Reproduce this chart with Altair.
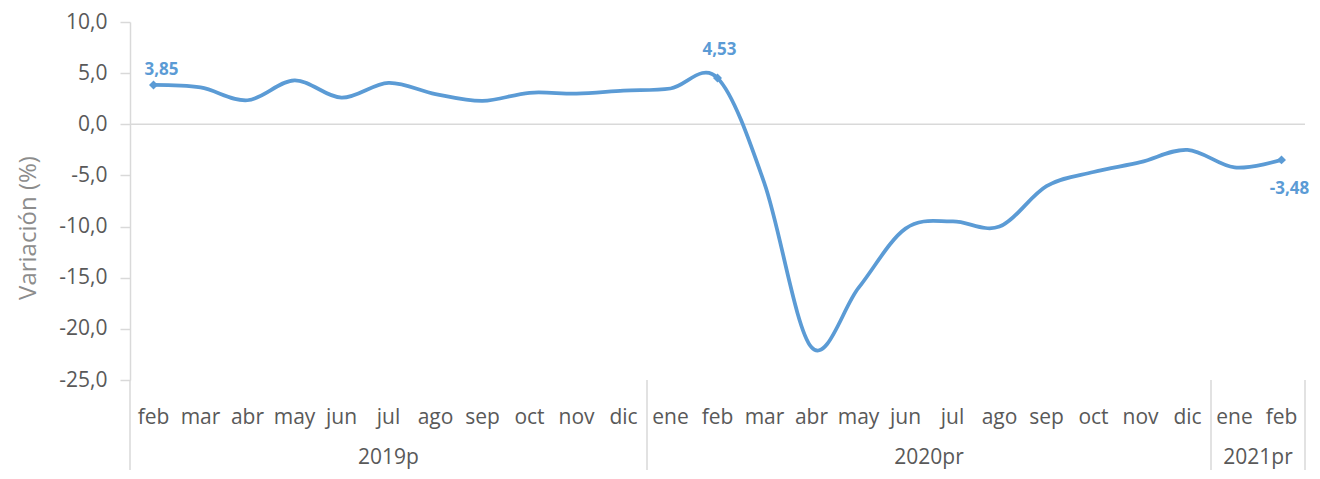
import altair as alt
import pandas as pd

months = ["feb", "mar", "abr", "may", "jun", "jul", "ago", "sep", "oct", "nov", "dic",
          "ene", "feb", "mar", "abr", "may", "jun", "jul", "ago", "sep", "oct", "nov", "dic",
          "ene", "feb"]
years = ["2019p"] * 11 + ["2020pr"] * 12 + ["2021pr"] * 2
values = [3.85, 3.6, 2.35, 4.3, 2.6, 4.05, 2.95, 2.28, 3.08, 3.0, 3.28,
          3.5, 4.53, -5.8, -21.8, -16.0, -10.2, -9.5, -10.0, -6.05, -4.67, -3.7, -2.5,
          -4.22, -3.48]
labeled = [0, 12, 24]
label_text = ["3,85", "4,53", "-3,48"]
year_names = ["2019p", "2020pr", "2021pr"]
y_ticks = [-25, -20, -15, -10, -5, 0, 5, 10]
y_title = "Variación (%)"

BLUE = "#5B9BD5"
FONT = "Open Sans"
N = len(values)

df = pd.DataFrame({"i": list(range(N)), "month": months, "year": years, "v": values})

bounds = [-0.5]
centers = []
for y in year_names:
    idx = [k for k, yy in enumerate(years) if yy == y]
    centers.append((idx[0] + idx[-1]) / 2)
    bounds.append(idx[-1] + 0.5)
df_sep = pd.DataFrame({"b": bounds})
df_year = pd.DataFrame({"c": centers, "name": year_names})
df_lab = pd.DataFrame({"i": labeled, "v": [values[k] for k in labeled], "t": label_text})
df_zero = pd.DataFrame({"a": [-0.5], "b": [N - 0.5], "z": [0]})
df_title = pd.DataFrame({"t": [y_title]})

xs = alt.Scale(domain=[-0.5, N - 0.5], nice=False, zero=False)
ys = alt.Scale(domain=[-25, 10], nice=False, zero=False)

W, H = 1175, 358
PX = H / 35.0          # pixels per y unit
PXX = W / float(N)     # pixels per category


def below(px):
    # y value located px pixels below the plot's bottom edge
    return -25 - px / PX


def from_top(px):
    return 10 - px / PX


def left_of(px):
    return -0.5 - px / PXX


yaxis = alt.Axis(
    values=y_ticks,
    labelExpr="(datum.value < 0 ? '-' : '') + replace(format(abs(datum.value), '.1f'), '.', ',')",
    grid=False, domainColor="#d9d9d9", domainWidth=1.5, tickColor="#d9d9d9", tickWidth=1.5,
    tickSize=10, labelPadding=13, labelFontSize=21, labelColor="#595959", labelFont=FONT,
    title="",
)

X = lambda f: alt.X(f, scale=xs, axis=None)
Y = lambda f: alt.Y(f, scale=ys, axis=yaxis)

line = alt.Chart(df).mark_line(color=BLUE, strokeWidth=3.75, interpolate="cardinal").encode(
    x=X("i:Q"), y=Y("v:Q"),
)

zero = alt.Chart(df_zero).mark_rule(color="#d9d9d9", strokeWidth=1.5).encode(
    x=X("a:Q"), x2="b:Q", y=Y("z:Q")
)

sep = alt.Chart(df_sep).mark_rule(color="#d9d9d9", strokeWidth=1.5).encode(
    x=X("b:Q"), y=alt.YDatum(-25, scale=ys, axis=yaxis), y2=alt.Y2Datum(below(90))
)

mlab = alt.Chart(df).mark_text(font=FONT, fontSize=21, color="#595959", baseline="alphabetic").encode(
    x=X("i:Q"), y=alt.YDatum(below(44), scale=ys, axis=yaxis), text="month:N"
)

ylab = alt.Chart(df_year).mark_text(font=FONT, fontSize=21, color="#595959", baseline="alphabetic").encode(
    x=X("c:Q"), y=alt.YDatum(below(84), scale=ys, axis=yaxis), text="name:N"
)

ttl = alt.Chart(df_title).mark_text(font=FONT, fontSize=24, color="#8c8c8c", angle=270,
                                    baseline="middle", align="center").encode(
    x=alt.XDatum(left_of(101), scale=xs, axis=None),
    y=alt.YDatum(from_top(206), scale=ys, axis=yaxis),
    text="t:N",
)

pts = alt.Chart(df_lab).mark_point(shape="diamond", filled=True, size=80, color=BLUE, opacity=1).encode(
    x=X("i:Q"), y=Y("v:Q")
)

offsets = [(8, -15), (2, -28), (8, 29)]
tl = []
for k, (dx, dy) in enumerate(offsets):
    sub = df_lab.iloc[[k]].reset_index(drop=True)
    tl.append(alt.Chart(sub).mark_text(
        font=FONT, fontSize=17, fontWeight="bold", color=BLUE, dx=dx, dy=dy, baseline="middle"
    ).encode(x=X("i:Q"), y=Y("v:Q"), text="t:N"))

chart = alt.layer(zero, sep, line, pts, mlab, ylab, ttl, *tl).properties(
    width=W, height=H,
    background="white",
    autosize=alt.AutoSizeParams(type="none"),
    padding={"left": 122, "top": 14, "right": 5, "bottom": 91},
).configure_view(stroke=None)

chart.save("out.html", embed_options={"renderer": "svg", "actions": False})
